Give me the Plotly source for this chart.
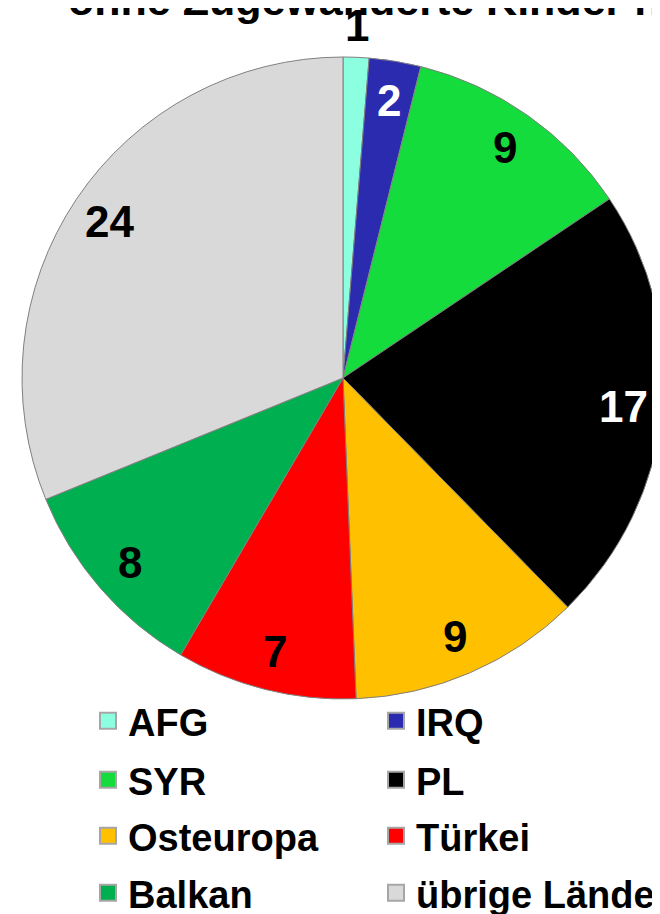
import math
import plotly.graph_objects as go

categories = ["AFG", "IRQ", "SYR", "PL", "Osteuropa", "Türkei", "Balkan", "übrige Länder"]
values = [1, 2, 9, 17, 9, 7, 8, 24]
colors = ["#8CFFE0", "#2B2BB0", "#14DC3C", "#000000", "#FFC000", "#FF0000", "#00B050", "#D9D9D9"]
label_colors = ["black", "white", "black", "white", "black", "black", "black", "black"]
title_text = "ohne Zugewanderte Kinder n=77"

W, H = 660, 914
OFF = 8  # page body margin offset
FONT = "Liberation Sans, Arial, sans-serif"

# pie geometry in figure pixels
R = 321
cx, cy = 343 - OFF, 378 - OFF

fig = go.Figure()
fig.add_trace(go.Pie(
    labels=categories, values=values, sort=False, direction="clockwise", rotation=0,
    marker=dict(colors=colors, line=dict(color="#808080", width=1)),
    textinfo="none", showlegend=False, hoverinfo="label+value",
    domain=dict(x=[(cx - R) / W, (cx + R) / W], y=[1 - (cy + R) / H, 1 - (cy - R) / H]),
))

# value labels placed from the data (cumulative angles)
total = sum(values)
cum = 0
annotations = []
for i, v in enumerate(values):
    mid = (cum + v / 2) / total
    cum += v
    th = 2 * math.pi * mid
    rr = 1.10 * R if v == min(values) else 0.877 * R
    px = cx + rr * math.sin(th)
    py = cy - rr * math.cos(th)
    annotations.append(dict(
        x=px / W, y=1 - py / H, xref="paper", yref="paper", showarrow=False,
        text=str(v), xanchor="center", yanchor="middle",
        font=dict(family=FONT, size=44, color=label_colors[i], weight="bold"),
    ))

annotations.append(dict(
    x=(66 - OFF) / W, y=1 - 18 / H, xref="paper", yref="paper", showarrow=False,
    text=title_text, xanchor="left", yanchor="bottom",
    font=dict(family=FONT, size=43, color="black", weight="bold"),
))

# legend: 4 rows x 2 columns, one legend box per entry
row_y = [713, 772, 828, 885]
col_x = [80, 368]
layout_legends = {}
for i, name in enumerate(categories):
    lname = "legend" if i == 0 else f"legend{i + 1}"
    fig.add_trace(go.Scatter(
        x=[None], y=[None], mode="markers", name=name,
        marker=dict(symbol="square", size=18, color=colors[i], line=dict(color="#A6A6A6", width=2)),
        legend=lname, showlegend=True, hoverinfo="skip",
    ))
    layout_legends[lname] = dict(
        orientation="h", x=col_x[i % 2] / W, xanchor="left",
        y=1 - row_y[i // 2] / H, yanchor="middle",
        font=dict(family=FONT, size=38, color="black", weight="bold"),
        itemwidth=30, bgcolor="rgba(0,0,0,0)", borderwidth=0,
    )

fig.update_layout(
    width=W, height=H, margin=dict(l=0, r=0, t=0, b=0, autoexpand=False),
    paper_bgcolor="white", plot_bgcolor="white",
    xaxis=dict(visible=False), yaxis=dict(visible=False),
    annotations=annotations,
    **layout_legends,
)

fig.write_html("out.html", post_script="document.body.style.overflow='hidden';")
